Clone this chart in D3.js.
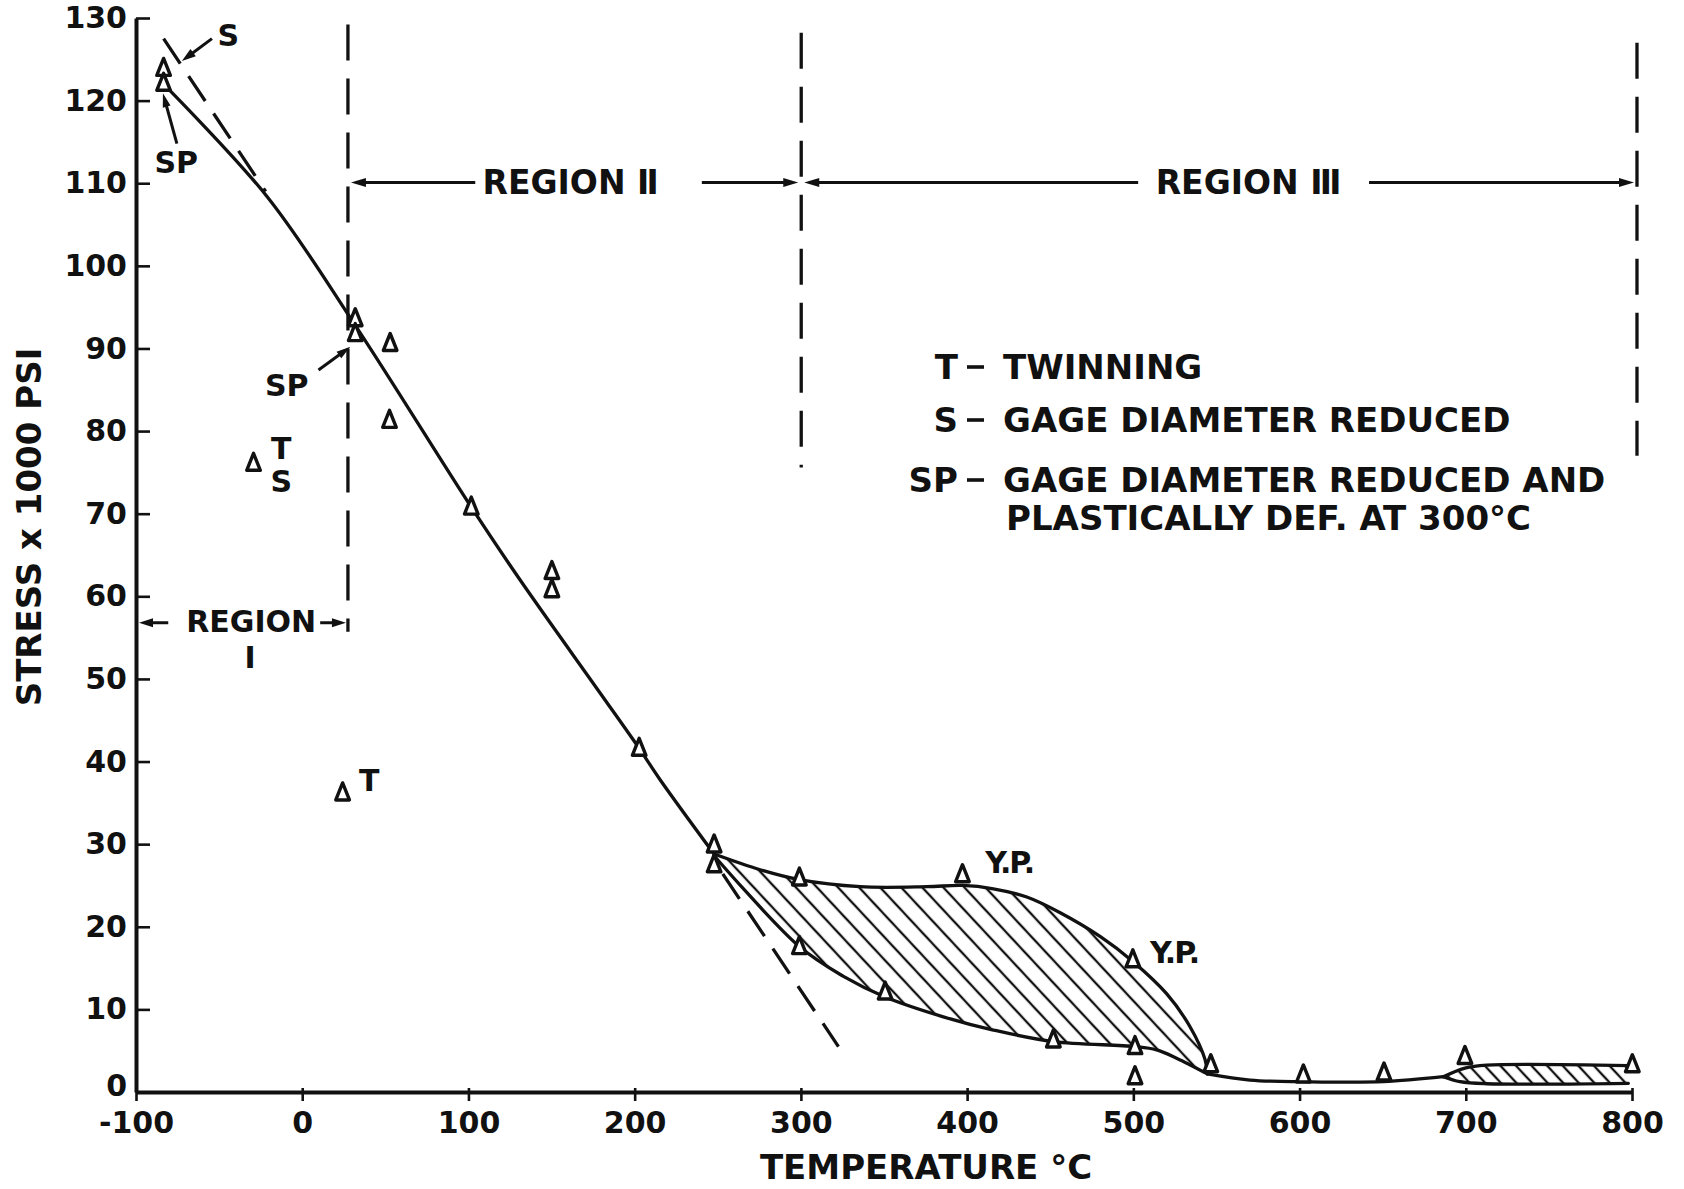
<!DOCTYPE html>
<html>
<head>
<meta charset="utf-8">
<script src="https://cdn.jsdelivr.net/npm/d3@7"></script>
<style>
  html, body { margin: 0; padding: 0; background: #fff; }
  svg { display: block; }
  text { font-family: "DejaVu Sans", sans-serif; font-weight: bold; fill: #111; }
</style>
</head>
<body>
<svg id="chart" width="1684" height="1189"></svg>
<script>
// Ultimate stress versus test temperature, with deformation regions I–III.

const xTicks = [-100, 0, 100, 200, 300, 400, 500, 600, 700, 800];
const yTicks = [0, 10, 20, 30, 40, 50, 60, 70, 80, 90, 100, 110, 120, 130];

// Main stress curve, -83 °C to the split at ~250 °C  [temp °C, stress ksi]
const mainCurve = [[-83.4, 122.0], [-21.2, 108.4], [31.9, 92.8], [101.7, 70.8],
  [131.0, 62.0], [179.2, 48.3], [202.7, 41.6], [215.3, 37.8], [247.8, 28.8]];

// Upper (yield point) and lower branches of the scatter band, 250–545 °C
const upperBand = [[247.8, 28.8], [275.5, 26.9], [299.1, 25.7], [335.6, 24.85], [375.7, 24.85],
  [397.2, 25.0], [415.8, 24.6], [435.9, 23.6], [456.0, 21.7], [480.2, 18.8], [499.7, 15.8],
  [520.0, 11.9], [534.1, 7.9], [543.2, 3.9], [544.5, 2.2]];
const lowerBand = [[247.8, 28.6], [299.1, 17.6], [325.6, 14.0], [350.7, 11.5], [385.7, 9.1],
  [415.8, 7.5], [451.9, 6.1], [501.0, 5.5], [514.0, 5.1], [526.0, 4.1], [544.5, 2.2]];

// High-temperature tail and its narrow band
const tailCurve = [[544.5, 2.2], [570.2, 1.45], [602.3, 1.25], [650.4, 1.25], [686.5, 1.85]];
const tailUpper = [[686.5, 1.85], [699.5, 2.9], [712.6, 3.25], [797.8, 3.2]];
const tailLower = [[686.5, 1.85], [696.5, 1.25], [712.6, 1.0], [797.8, 1.05]];

// Visible parts of the straight-line extrapolation
const extrapUpper = [[-83.4, 127.5], [-22.0, 109.0]];
const extrapLower = [[253.0, 26.4], [322.6, 5.5]];

// Individual test results
const specimens = [[-83.4, 123.9], [-83.4, 122.1], [31.9, 93.6], [31.9, 91.8], [52.9, 90.6],
  [52.5, 81.3], [-29.3, 76.1], [101.7, 70.8], [150.2, 63.0], [150.2, 60.8], [24.3, 36.2],
  [202.7, 41.6], [247.8, 29.9], [247.8, 27.5], [299.1, 25.9], [299.1, 17.6], [350.7, 12.1],
  [397.2, 26.3], [451.9, 6.3], [499.7, 16.0], [501.0, 5.5], [501.0, 1.85], [546.6, 3.3],
  [602.3, 2.06], [650.8, 2.3], [699.5, 4.3], [800.2, 3.3]];

// Region boundaries [temp, top stress, bottom stress]
const regionBounds = [[27.5, 129.2, 55.7], [300.2, 128.2, 75.6], [803.0, 127.0, 77.0]];

const legendRows = [
  { key: "T", text: "TWINNING", dash: true },
  { key: "S", text: "GAGE DIAMETER REDUCED", dash: true },
  { key: "SP", text: "GAGE DIAMETER REDUCED AND", dash: true },
  { key: "", text: "PLASTICALLY DEF. AT 300°C", dash: false }
];

const svg = d3.select("#chart");
const ink = "#111";

const x = d3.scaleLinear().domain([-100, 800]).range([136, 1632]);
const y = d3.scaleLinear().domain([0, 130]).range([1092, 18]);

// hatch patterns
const defs = svg.append("defs");
function hatch(id, spacing) {
  const p = defs.append("pattern").attr("id", id).attr("patternUnits", "userSpaceOnUse")
    .attr("width", spacing).attr("height", 40).attr("patternTransform", "rotate(-43)");
  p.append("line").attr("x1", spacing / 2).attr("x2", spacing / 2).attr("y1", 0).attr("y2", 40)
    .attr("stroke", ink).attr("stroke-width", 2.3);
}
hatch("hatchWide", 15.4);
hatch("hatchNarrow", 11.4);

const curve = d3.line().x(d => x(d[0])).y(d => y(d[1])).curve(d3.curveCatmullRom.alpha(0.5));
const straight = d3.line().x(d => x(d[0])).y(d => y(d[1]));

function bandPath(up, low) {
  return curve(up) + curve(low.slice().reverse()).replace(/^M/, "L") + "Z";
}

svg.append("path").attr("d", bandPath(upperBand, lowerBand)).attr("fill", "url(#hatchWide)");
svg.append("path").attr("d", bandPath(tailUpper, tailLower)).attr("fill", "url(#hatchNarrow)");

// axes
const yAxis = d3.axisLeft(y).tickValues(yTicks).tickSize(-14).tickSizeOuter(0).tickPadding(9)
  .tickFormat(d => String(d));
const gy = svg.append("g").attr("transform", `translate(${x(-100)},0)`).call(yAxis);
gy.selectAll(".tick text").filter(d => d === 0).attr("dy", "0.1em");
const xAxis = d3.axisBottom(x).tickValues(xTicks).tickSize(9).tickSizeOuter(0).tickPadding(11)
  .tickFormat(d => String(d));
const gx = svg.append("g").attr("transform", `translate(0,${y(0)})`).call(xAxis);
gx.selectAll(".tick line").attr("y1", -4);
[gx, gy].forEach(g => {
  g.select(".domain").attr("stroke", ink).attr("stroke-width", 4);
  g.selectAll(".tick line").attr("stroke", ink).attr("stroke-width", 2.6);
  g.selectAll(".tick text").attr("fill", ink).style("font-size", "30px")
    .style("font-family", '"DejaVu Sans", sans-serif').style("font-weight", "bold");
});

// curves
const curveStyle = sel => sel.attr("fill", "none").attr("stroke", ink).attr("stroke-width", 3.3)
  .attr("stroke-linejoin", "round").attr("stroke-linecap", "round");
[mainCurve, upperBand, lowerBand, tailCurve, tailUpper, tailLower].forEach(c =>
  svg.append("path").attr("d", curve(c)).call(curveStyle));

// extrapolation (dashed)
[extrapUpper, extrapLower].forEach(seg =>
  svg.append("path").attr("d", straight(seg)).attr("fill", "none").attr("stroke", ink)
    .attr("stroke-width", 3.3).attr("stroke-dasharray", "30,15"));

// region boundaries
regionBounds.forEach(([t, top, bot]) =>
  svg.append("line").attr("x1", x(t)).attr("x2", x(t)).attr("y1", y(top)).attr("y2", y(bot))
    .attr("stroke", ink).attr("stroke-width", 3.3).attr("stroke-dasharray", "36,18"));

// arrow helper: line from (x1,y1) with a head at (x2,y2)
function arrow(x1, y1, x2, y2, len = 15, half = 4.5) {
  const dx = x2 - x1, dy = y2 - y1, L = Math.hypot(dx, dy), ux = dx / L, uy = dy / L;
  svg.append("line").attr("x1", x1).attr("y1", y1).attr("x2", x2 - ux * len * 0.6).attr("y2", y2 - uy * len * 0.6)
    .attr("stroke", ink).attr("stroke-width", 3);
  const bx = x2 - ux * len, by = y2 - uy * len;
  svg.append("path")
    .attr("d", `M${x2},${y2}L${bx - uy * half},${by + ux * half}L${bx + uy * half},${by - ux * half}Z`)
    .attr("fill", ink);
}

function label(txt, tx, ty, size, anchor = "middle", extra) {
  const t = svg.append("text").attr("x", tx).attr("y", ty).attr("text-anchor", anchor)
    .style("font-size", size + "px").text(txt);
  if (extra) extra(t);
  return t;
}

// Region I
const r1y = y(56.8);
arrow(x(-80.6), r1y, x(-100) + 3, r1y, 14, 4.5);
label("REGION", x(-30.7), r1y + 9, 30);
label("I", x(-31.3), y(53.1) + 15, 30);
arrow(x(10.8), r1y, x(27.5) - 2, r1y, 14, 4.5);

// Region II
const r2y = y(110.1);
arrow(x(104.1), r2y, x(27.5) + 3, r2y);
label("REGION Ⅱ", x(161.5), r2y + 12, 33);
arrow(x(240.4), r2y, x(300.2) - 3, r2y);

// Region III
arrow(x(502.9), r2y, x(300.2) + 3, r2y);
label("REGION Ⅲ", x(569.3), r2y + 12, 33);
arrow(x(641.8), r2y, x(803) - 3, r2y);

// specimen symbols
svg.append("g").selectAll("path").data(specimens).join("path")
  .attr("transform", d => `translate(${x(d[0])},${y(d[1])})`)
  .attr("d", "M0,-10L6.8,7L-6.8,7Z")
  .attr("fill", "#fff").attr("stroke", ink).attr("stroke-width", 3.4).attr("stroke-linejoin", "round");

// annotations
label("S", x(-44.5), y(128.0) + 11, 30);
arrow(x(-54.3), y(127.5), x(-72.4), y(124.8), 14, 4.5);
label("SP", x(-75.8), y(112.6) + 11, 30);
arrow(x(-75.4), y(114.8), x(-83.8), y(120.9), 14, 4);
label("SP", x(-9.3), y(85.6) + 11, 30);
arrow(x(9.8), y(87.4), x(28.9), y(90.2), 14, 4);
label("T", x(-12.6), y(78.0) + 11, 30);
label("S", x(-12.6), y(73.9) + 11, 30);
label("T", x(40.3), y(37.8) + 11, 30);
label("Y.P.", x(425.3), y(27.8) + 11, 30, "middle", t => t.attr("letter-spacing", -2));
label("Y.P.", x(524.5), y(17.0) + 11, 30, "middle", t => t.attr("letter-spacing", -2));

// legend
const legendBase = [379, 432, 492, 530];
legendRows.forEach((r, i) => {
  const by = legendBase[i];
  if (r.key) label(r.key, 958, by, 34, "end");
  if (r.dash) svg.append("line").attr("x1", 967).attr("x2", 984).attr("y1", by - 12).attr("y2", by - 12)
    .attr("stroke", ink).attr("stroke-width", 3.6);
  label(r.text, r.dash ? 1003 : 1006, by, 34, "start");
});

// axis titles
label("TEMPERATURE °C", 926, 1179, 34);
svg.append("text").attr("transform", "translate(41,527) rotate(-90)").attr("text-anchor", "middle")
  .style("font-size", "34px").text("STRESS x 1000 PSI");
</script>
</body>
</html>
